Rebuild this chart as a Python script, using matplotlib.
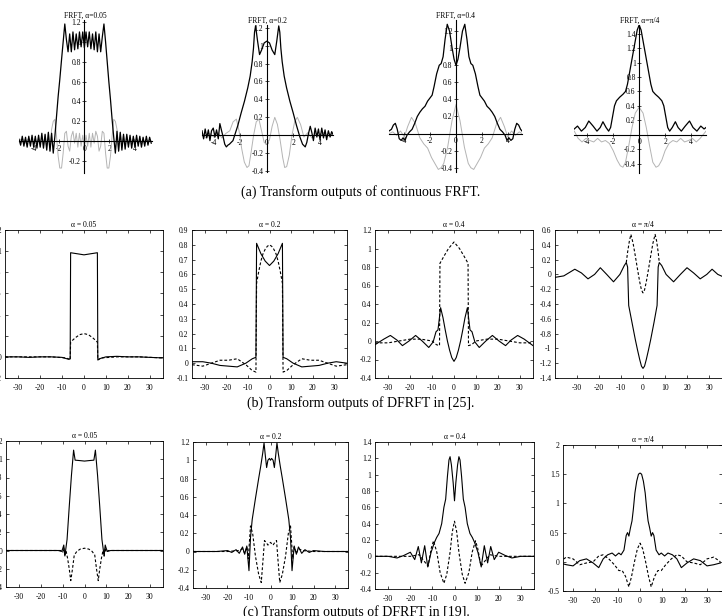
import matplotlib
matplotlib.use("Agg")
import matplotlib.pyplot as plt
from matplotlib.ticker import FuncFormatter

plt.rcParams["font.family"] = ["Liberation Serif", "DejaVu Serif"]
plt.rcParams["axes.unicode_minus"] = False

W, H = 722, 616

# ---------------- (a) continuous FRFT ----------------
a1_x = [-5.2, -5.07, -4.94, -4.81, -4.68, -4.55, -4.42, -4.29, -4.16, -4.03, -3.9, -3.77, -3.64, -3.51,
        -3.38, -3.25, -3.12, -2.99, -2.86, -2.73, -2.6, -2.47, -2.34, -2.21, -2.08, -1.95, -1.81, -1.68,
        -1.55, -1.42, -1.29, -1.16, -1.03, -0.9, -0.77, -0.64, -0.51, -0.38, -0.25, -0.12, 0.01, 0.14,
        0.27, 0.4, 0.53, 0.66, 0.79, 0.92, 1.05, 1.18, 1.31, 1.44, 1.57, 1.7, 1.83, 1.96, 2.09, 2.22,
        2.35, 2.48, 2.61, 2.74, 2.87, 3.0, 3.13, 3.26, 3.39, 3.52, 3.65, 3.78, 3.91, 4.04, 4.17, 4.3,
        4.43, 4.56, 4.69, 4.82, 4.95, 5.08, 5.21, 5.34]
a1_mag = [0.02, -0.04, 0.05, -0.05, 0.04, -0.06, 0.05, -0.05, 0.06, -0.06, 0.05, -0.07, 0.06, -0.06,
          0.08, -0.07, 0.07, -0.09, 0.09, -0.1, 0.08, -0.12, 0.05, 0.25, 0.45, 0.62, 0.82, 1.0, 1.18,
          1.02, 0.9, 1.08, 0.9, 1.1, 0.92, 1.08, 0.93, 1.1, 0.95, 1.1, 0.94, 1.1, 0.95, 1.1, 0.93, 1.08,
          0.92, 1.1, 0.9, 1.08, 0.9, 1.05, 1.18, 1.0, 0.8, 0.6, 0.42, 0.22, 0.04, -0.12, 0.1, -0.1, 0.09,
          -0.09, 0.07, -0.08, 0.07, -0.06, 0.06, -0.07, 0.05, -0.06, 0.06, -0.05, 0.05, -0.06, 0.04,
          -0.05, 0.05, -0.04, 0.04, -0.02]
a1_re = [0.0, 0.02, -0.01, 0.02, -0.02, 0.01, 0.03, -0.03, 0.02, -0.02, 0.03, -0.03, 0.04, -0.04, 0.05,
         -0.05, 0.06, -0.06, 0.08, -0.1, 0.12, 0.2, 0.22, 0.05, -0.15, -0.27, -0.27, -0.12, 0.08, 0.1,
         -0.05, -0.1, 0.05, 0.1, -0.02, 0.08, -0.06, 0.08, -0.05, 0.06, -0.06, 0.06, -0.05, 0.08, -0.06,
         0.08, -0.02, 0.1, 0.05, -0.1, -0.05, 0.1, 0.08, -0.12, -0.27, -0.27, -0.15, 0.05, 0.22, 0.2,
         0.12, -0.1, 0.08, -0.06, 0.06, -0.05, 0.05, -0.04, 0.04, -0.03, 0.03, -0.02, 0.02, -0.03, 0.03,
         -0.02, 0.02, -0.01, 0.02, -0.01, 0.01, 0.0]

a2_x = [-4.9, -4.78, -4.66, -4.54, -4.42, -4.3, -4.18, -4.05, -3.92, -3.8, -3.67, -3.55, -3.42, -3.3,
        -3.18, -3.06, -2.94, -2.83, -2.56, -2.19, -1.94, -1.69, -1.44, -1.26, -1.11, -1.01, -0.93, -0.85,
        -0.7, -0.55, -0.4, -0.2, 0.0, 0.2, 0.4, 0.6, 0.75, 0.9, 0.98, 1.06, 1.16, 1.31, 1.49, 1.74, 1.99,
        2.24, 2.5, 2.7, 2.9, 3.02, 3.15, 3.28, 3.4, 3.52, 3.65, 3.78, 3.9, 4.02, 4.15, 4.28, 4.4, 4.52,
        4.65, 4.78, 4.9, 5.0]
a2_mag = [0.05, -0.04, 0.07, -0.03, 0.06, -0.06, 0.05, 0.08, -0.02, 0.06, -0.04, 0.13, 0.05, -0.02,
          -0.1, -0.13, -0.11, -0.1, -0.06, 0.11, 0.25, 0.38, 0.53, 0.66, 0.82, 0.97, 1.15, 1.22, 1.05,
          0.9, 0.95, 1.03, 1.05, 1.03, 0.95, 0.9, 1.05, 1.22, 1.15, 0.97, 0.82, 0.66, 0.53, 0.38, 0.25,
          0.11, -0.02, -0.1, -0.13, -0.08, 0.02, 0.1, 0.03, -0.06, 0.08, -0.02, 0.07, -0.05, 0.08, -0.03,
          0.06, -0.05, 0.05, -0.02, 0.04, 0.01]
a2_re_x = [-4.9, -4.6, -4.3, -4.0, -3.7, -3.4, -3.1, -2.8, -2.55, -2.3, -2.1, -1.9, -1.7, -1.5, -1.35,
           -1.2, -1.0, -0.8, -0.6, -0.4, -0.2, 0.0, 0.2, 0.4, 0.6, 0.8, 1.0, 1.2, 1.35, 1.5, 1.7, 1.9,
           2.1, 2.3, 2.55, 2.8, 3.1, 3.4, 3.7, 4.0, 4.3, 4.6, 4.9]
a2_re = [0.01, -0.03, 0.02, -0.02, 0.03, -0.03, 0.02, 0.05, 0.15, 0.18, 0.05, -0.15, -0.3, -0.36, -0.34,
         -0.2, 0.0, 0.15, 0.18, 0.05, -0.08, -0.1, -0.05, 0.1, 0.2, 0.12, -0.05, -0.25, -0.36, -0.35,
         -0.22, 0.0, 0.15, 0.2, 0.12, -0.02, 0.03, -0.03, 0.02, -0.02, 0.03, -0.01, 0.01]

a3_x = [-5.19, -5.0, -4.85, -4.7, -4.55, -4.4, -4.25, -4.1, -3.95, -3.8, -3.6, -3.4, -3.2, -3.0, -2.8,
        -2.6, -2.4, -2.2, -2.0, -1.85, -1.7, -1.5, -1.3, -1.15, -1.0, -0.85, -0.68, -0.5, -0.3, -0.15,
        0.0, 0.15, 0.3, 0.5, 0.68, 0.85, 1.0, 1.15, 1.3, 1.5, 1.7, 1.85, 2.0, 2.2, 2.4, 2.6, 2.8, 3.0,
        3.2, 3.4, 3.6, 3.8, 3.95, 4.1, 4.25, 4.4, 4.55, 4.7, 4.85, 5.0, 5.11]
a3_mag = [0.03, 0.05, 0.1, 0.12, 0.05, -0.06, -0.08, -0.05, -0.08, -0.02, 0.02, 0.05, 0.12, 0.2, 0.25,
          0.29, 0.32, 0.38, 0.42, 0.45, 0.55, 0.7, 0.8, 0.82, 0.9, 1.1, 1.28, 1.2, 1.0, 0.87, 0.8, 0.87,
          1.0, 1.2, 1.28, 1.1, 0.9, 0.82, 0.8, 0.7, 0.55, 0.45, 0.42, 0.38, 0.32, 0.29, 0.25, 0.2, 0.12,
          0.05, 0.02, -0.02, -0.08, -0.05, -0.08, -0.06, 0.05, 0.12, 0.1, 0.05, 0.03]
a3_re_x = [-5.19, -4.9, -4.6, -4.3, -4.0, -3.75, -3.45, -3.15, -2.8, -2.5, -2.2, -1.9, -1.6, -1.37, -1.15,
           -0.95, -0.65, -0.31, 0.0, 0.31, 0.65, 0.95, 1.15, 1.37, 1.6, 1.9, 2.2, 2.5, 2.8, 3.15, 3.45,
           3.75, 4.0, 4.3, 4.6, 4.9, 5.11]
a3_re = [0.0, 0.02, -0.02, 0.03, -0.04, 0.08, 0.19, 0.12, -0.05, -0.12, -0.17, -0.28, -0.36, -0.42, -0.4,
         -0.35, -0.16, 0.15, 0.34, 0.15, -0.16, -0.35, -0.4, -0.42, -0.36, -0.28, -0.17, -0.12, -0.05,
         0.12, 0.19, 0.08, -0.04, 0.03, -0.02, 0.02, 0.0]

a4_x = [-5.0, -4.75, -4.45, -4.15, -3.88, -3.55, -3.25, -3.0, -2.79, -2.55, -2.35, -2.2, -2.05, -1.9,
        -1.75, -1.5, -1.25, -1.05, -0.9, -0.75, -0.6, -0.45, -0.3, -0.15, 0.0, 0.15, 0.3, 0.45, 0.6,
        0.75, 0.9, 1.05, 1.25, 1.5, 1.75, 1.9, 2.05, 2.2, 2.35, 2.55, 2.79, 3.0, 3.25, 3.55, 3.88, 4.15,
        4.45, 4.75, 5.0, 5.15]
a4_mag = [0.08, 0.12, 0.05, 0.1, 0.19, 0.12, 0.05, 0.1, 0.18, 0.1, 0.05, 0.1, 0.25, 0.4, 0.47, 0.52,
          0.56, 0.6, 0.7, 0.85, 1.0, 1.15, 1.3, 1.45, 1.52, 1.45, 1.3, 1.15, 1.0, 0.85, 0.7, 0.6, 0.56,
          0.52, 0.47, 0.4, 0.25, 0.1, 0.05, 0.1, 0.18, 0.1, 0.05, 0.12, 0.19, 0.1, 0.05, 0.12, 0.08, 0.1]
a4_re_x = [-5.0, -4.7, -4.4, -4.1, -3.8, -3.5, -3.2, -2.9, -2.6, -2.3, -2.0, -1.7, -1.45, -1.25, -1.05,
           -0.8, -0.55, -0.3, 0.0, 0.3, 0.55, 0.8, 1.05, 1.3, 1.5, 1.75, 2.0, 2.3, 2.6, 2.9, 3.2, 3.5,
           3.8, 4.1, 4.4, 4.7, 5.15]
a4_re = [0.05, -0.05, -0.1, -0.05, -0.08, -0.1, -0.05, -0.1, -0.08, -0.12, -0.22, -0.35, -0.43, -0.45,
         -0.38, -0.15, 0.1, 0.3, 0.38, 0.3, 0.1, -0.15, -0.38, -0.45, -0.43, -0.35, -0.22, -0.12, -0.08,
         -0.1, -0.05, -0.1, -0.08, -0.05, -0.1, -0.05, 0.05]

# ---------------- (b) DFRFT in [25] ----------------
b1_x = [-36, -30, -25, -20, -15, -10, -7.5, -6.3, -6.1, -3.0, 0.0, 3.0, 6.1, 6.3, 7.5, 10, 15, 20, 25,
        30, 36]
b1_solid = [0.0, 0.0, -0.005, 0.0, 0.0, -0.005, -0.02, -0.02, 0.985, 0.975, 0.965, 0.975, 0.985, -0.025,
            -0.015, 0.0, 0.005, 0.0, 0.0, -0.005, -0.01]
b1_dx = [-36, -25, -15, -8, -6.3, -6.1, -4, -2, 0, 2, 4, 6.1, 6.3, 8, 15, 25, 36]
b1_dash = [0.0, 0.0, 0.0, -0.01, -0.03, 0.14, 0.18, 0.21, 0.22, 0.21, 0.18, 0.14, -0.03, -0.01, 0.0, 0.0,
           -0.01]

b2_x = [-36, -31, -27, -23, -19, -15, -11, -8, -6.3, -6.0, -4, -2, 0, 2, 4, 6.0, 6.3, 8, 11, 15, 19, 23,
        27, 31, 36]
b2_solid = [0.01, 0.01, 0.0, -0.015, -0.02, -0.025, 0.0, 0.03, 0.04, 0.81, 0.74, 0.69, 0.66, 0.69, 0.74,
            0.81, 0.04, 0.03, 0.0, -0.025, -0.02, -0.015, 0.0, 0.01, 0.0]
b2_dx = [-36, -31, -27, -23, -19, -15, -11, -8, -6.3, -6.0, -5, -4, -3, -2, -1, 0, 1, 2, 3, 4, 5, 6.0,
         6.3, 8, 11, 15, 19, 23, 27, 31, 36]
b2_dash = [-0.01, -0.02, 0.0, 0.02, 0.02, 0.03, -0.01, -0.05, -0.06, 0.54, 0.62, 0.69, 0.74, 0.77, 0.79,
           0.8, 0.79, 0.77, 0.74, 0.69, 0.62, 0.54, -0.06, -0.05, -0.01, 0.03, 0.02, 0.02, 0.0, -0.02,
           -0.01]

b3_x = [-36, -32, -29, -26, -23.5, -20.5, -17.5, -14.5, -11.5, -9.5, -8.2, -7.3, -6.1, -5, -4, -3, -2, -1,
        0, 1, 2, 3, 4, 5, 6.1, 7.3, 8.2, 9.5, 11.5, 14.5, 17.5, 20.5, 23.5, 26, 29, 32, 36]
b3_solid = [-0.04, 0.02, 0.06, 0.01, -0.05, 0.0, 0.06, 0.0, -0.07, -0.01, 0.1, 0.12, 0.36, 0.25, 0.12,
            0.0, -0.1, -0.18, -0.22, -0.18, -0.1, 0.0, 0.12, 0.25, 0.36, 0.12, 0.1, -0.01, -0.07, 0.0,
            0.06, 0.0, -0.05, 0.01, 0.06, 0.02, -0.05]
b3_dx = [-36, -30, -25, -20, -15, -10, -8, -6.6, -6.4, -4.5, -2.5, 0, 2.5, 4.5, 6.4, 6.6, 8, 10, 15, 20,
         25, 30, 36]
b3_dash = [-0.02, -0.02, 0.0, 0.02, 0.02, 0.0, -0.04, -0.05, 0.84, 0.92, 1.0, 1.07, 1.0, 0.92, 0.84, -0.05,
           -0.04, 0.0, 0.02, 0.02, 0.0, -0.02, -0.02]

b4_x = [-40, -36, -31, -28, -25, -22, -19.4, -16.5, -13.4, -10.5, -8.5, -7.6, -7.0, -6.5, -5, -3.5, -2.5,
        -1.5, -0.7, 0, 0.7, 1.5, 2.5, 3.5, 5, 6.4, 6.9, 7.4, 8.5, 10.5, 13.9, 17, 20, 23, 26, 29, 31.4,
        34, 37, 40]
b4_solid = [-0.04, -0.02, 0.07, 0.02, -0.06, 0.0, 0.09, 0.0, -0.1, 0.0, 0.12, 0.16, 0.1, -0.42, -0.65,
            -0.88, -1.02, -1.15, -1.24, -1.27, -1.24, -1.15, -1.02, -0.88, -0.65, -0.42, 0.1, 0.16, 0.12,
            0.0, -0.1, 0.0, 0.09, 0.02, -0.06, 0.0, 0.07, 0.0, -0.04, -0.02]
b4_dx = [-7.6, -7.0, -6.2, -5.5, -4.5, -3.5, -2.5, -1.5, -0.7, 0, 0.7, 1.5, 2.5, 3.5, 4.5, 5.5, 6.2, 6.9,
         7.4]
b4_dash = [0.16, 0.3, 0.45, 0.54, 0.42, 0.25, 0.07, -0.1, -0.21, -0.25, -0.21, -0.1, 0.07, 0.25, 0.42,
           0.54, 0.45, 0.3, 0.16]

# ---------------- (c) DFRFT in [19] ----------------
c1_x = [-36, -30, -20, -12, -10.5, -10, -9.5, -9.0, -8.5, -8.0, -7, -6, -5, -4.3, -2, 0, 2, 4.3, 5, 6, 7,
        8, 8.5, 9, 9.5, 10, 10.5, 12, 20, 30, 36]
c1_solid = [0.0, 0.0, 0.0, 0.0, -0.01, 0.02, 0.06, -0.06, 0.03, 0.12, 0.48, 0.82, 1.1, 0.99, 0.985, 0.98,
            0.985, 0.99, 1.1, 0.82, 0.48, 0.12, 0.03, -0.06, 0.06, 0.02, -0.01, 0.0, 0.0, 0.0, 0.0]
c1_dx = [-36, -20, -11, -10, -9.5, -9, -8.5, -7.8, -7, -6.3, -5.5, -4.7, -3.5, -2, 0, 2, 3.5, 4.7, 5.5,
         6.3, 7, 7.8, 8.5, 9, 9.5, 10, 11, 20, 36]
c1_dash = [0.0, 0.0, 0.0, -0.02, 0.03, -0.06, 0.0, -0.08, -0.2, -0.33, -0.2, -0.05, -0.01, 0.015, 0.025,
           0.015, -0.01, -0.05, -0.2, -0.33, -0.2, -0.08, 0.0, -0.06, 0.03, -0.02, 0.0, 0.0, 0.0]

c2_x = [-36, -25, -20, -18, -16, -14.5, -13, -12, -11, -10, -9.3, -8.5, -7, -5.5, -4.5, -3.6, -3.0, -2.4,
        -1.8, -1.2, -0.5, 0, 0.5, 1.2, 1.8, 2.4, 3.0, 3.6, 4.5, 5.5, 7, 8.5, 9.3, 10, 11, 12, 13, 14.5,
        16, 18, 20, 25, 36]
c2_solid = [0.0, 0.0, 0.01, -0.01, 0.02, -0.02, 0.05, -0.03, 0.06, -0.21, 0.15, 0.35, 0.58, 0.8, 0.94,
            1.08, 1.19, 1.05, 0.92, 1.0, 1.02, 1.0, 1.02, 1.0, 0.92, 1.05, 1.19, 1.08, 0.94, 0.8, 0.58,
            0.35, 0.15, -0.21, 0.06, -0.03, 0.05, -0.02, 0.02, -0.01, 0.01, 0.0, 0.0]
c2_dx = [-36, -20, -15, -13, -12, -11, -10.3, -9.3, -8.3, -7, -5.5, -4.3, -3.5, -2.8, -2.0, -1.2, 0, 1.2,
         2.0, 2.8, 3.5, 4.3, 5.5, 7, 8.3, 9.3, 10.3, 11, 12, 13, 15, 20, 36]
c2_dash = [0.0, 0.0, 0.01, 0.03, -0.02, 0.05, -0.08, 0.28, 0.2, -0.05, -0.25, -0.34, -0.1, 0.12, 0.1,
           0.07, 0.1, 0.07, 0.1, 0.12, -0.1, -0.34, -0.25, -0.05, 0.2, 0.28, -0.08, 0.05, -0.02, 0.03,
           0.01, 0.0, 0.0]

c3_x = [-36, -30, -26, -23, -20, -18, -16.4, -15, -13.5, -12.1, -10.6, -9.1, -8.1, -7, -5.8, -4.8, -4.0,
        -3.2, -2.5, -2.0, -1.4, -0.6, 0, 0.6, 1.4, 2.0, 2.5, 3.2, 4.0, 4.8, 5.8, 7, 8.1, 9.1, 10.6, 12.1,
        13.5, 15, 16.4, 18, 20, 23, 26, 30, 36]
c3_solid = [0.0, 0.0, -0.02, 0.01, 0.05, -0.04, 0.12, -0.08, 0.13, -0.13, 0.05, 0.17, 0.23, 0.28, 0.4,
            0.6, 0.7, 0.98, 1.18, 1.22, 1.12, 0.9, 0.68, 0.9, 1.12, 1.22, 1.18, 0.98, 0.7, 0.6, 0.4, 0.28,
            0.23, 0.17, 0.05, -0.13, 0.13, -0.08, 0.12, -0.04, 0.05, 0.01, -0.02, 0.0, 0.0]
c3_dx = [-36, -20, -16, -14, -12, -10.5, -9.5, -8, -6.5, -4.8, -3.5, -2.0, -1.0, 0, 1.0, 2.0, 3.5, 4.8,
         6.5, 8, 9.5, 10.5, 12, 14, 16, 20, 36]
c3_dash = [0.0, 0.0, 0.02, -0.05, -0.12, 0.1, 0.19, 0.05, -0.2, -0.33, -0.22, 0.05, 0.3, 0.43, 0.3, 0.05,
           -0.22, -0.33, -0.2, 0.05, 0.19, 0.1, -0.12, -0.05, 0.02, 0.0, 0.0]

c4_x = [-36, -33, -30, -27, -24, -21, -18.5, -16.5, -14.5, -12.5, -11, -9.5, -8.5, -7.2, -6.2, -5.6, -5.0,
        -4.3, -3.6, -3.0, -2.3, -1.5, -0.7, 0, 0.7, 1.5, 2.3, 3.0, 3.6, 4.3, 5.0, 5.6, 6.2, 7.2, 8.5, 9.5,
        11, 12.5, 14.5, 16.5, 18.5, 21, 24, 27, 30, 33, 36]
c4_solid = [-0.02, -0.05, -0.07, 0.02, 0.05, -0.02, -0.1, 0.05, 0.12, 0.15, 0.1, 0.15, 0.12, 0.2, 0.45,
            0.5, 0.44, 0.58, 0.7, 0.9, 1.18, 1.38, 1.5, 1.52, 1.5, 1.38, 1.18, 0.9, 0.7, 0.58, 0.44, 0.5,
            0.45, 0.2, 0.12, 0.15, 0.1, 0.15, 0.12, 0.05, -0.1, -0.02, 0.05, 0.02, -0.07, -0.05, -0.02]
c4_dx = [-36, -33, -30, -27, -24, -21, -18.5, -16.5, -14, -11.5, -9.5, -8, -6.5, -5.0, -3.8, -2.5, -1.2,
         0, 1.2, 2.5, 3.8, 5.0, 6.5, 8, 9.5, 11.5, 14, 16.5, 18.5, 21, 24, 27, 30, 33, 36]
c4_dash = [0.0, 0.08, 0.05, -0.05, -0.02, 0.0, 0.1, 0.12, 0.05, -0.05, -0.15, -0.15, -0.25, -0.43, -0.25,
           0.0, 0.22, 0.32, 0.22, 0.0, -0.25, -0.43, -0.25, -0.15, -0.15, -0.05, 0.05, 0.12, 0.1, 0.0,
           -0.02, -0.05, 0.05, 0.08, 0.0]

xticks_box = [-30, -20, -10, 0, 10, 20, 30]

fig = plt.figure(figsize=(W / 100, H / 100), dpi=100)


def place(x0, y0, x1, y1):
    return fig.add_axes([x0 / W, 1 - y1 / H, (x1 - x0) / W, (y1 - y0) / H])


label = FuncFormatter(lambda v, pos: "%g" % round(v, 3))


def crossed(rect, xlim, ylim, yticks, title, x_re, y_re, x_mag, y_mag):
    ax = place(*rect)
    ax.plot(x_re, y_re, color="#b4b4b4", lw=0.7)
    ax.plot(x_mag, y_mag, color="black", lw=0.9)
    ax.set_xlim(xlim)
    ax.set_ylim(ylim)
    for side in ("top", "right"):
        ax.spines[side].set_visible(False)
    for side in ("left", "bottom"):
        ax.spines[side].set_position(("data", 0))
        ax.spines[side].set_linewidth(0.8)
    ax.set_xticks([-4, -2, 0, 2, 4])
    ax.set_yticks(yticks)
    ax.xaxis.set_major_formatter(label)
    ax.yaxis.set_major_formatter(label)
    ax.tick_params(direction="inout", length=3, width=0.5, labelsize=5.5, pad=1)
    ax.patch.set_visible(False)
    ax.set_title(title, fontsize=5.5, pad=1)
    return ax


def boxed(rect, xlim, ylim, yticks, title, xs, ys, xd, yd):
    ax = place(*rect)
    ax.plot(xs, ys, color="black", lw=0.8)
    ax.plot(xd, yd, color="black", lw=0.8, dashes=(2.5, 1.8))
    ax.set_xlim(xlim)
    ax.set_ylim(ylim)
    ax.set_xticks(xticks_box)
    ax.set_yticks(yticks)
    ax.xaxis.set_major_formatter(label)
    ax.yaxis.set_major_formatter(label)
    ax.tick_params(direction="in", top=True, right=True, length=2.5, width=0.5, labelsize=5.5)
    ax.tick_params(axis="x", pad=4)
    ax.tick_params(axis="y", pad=2.5)
    for sp in ax.spines.values():
        sp.set_linewidth(0.6)
    ax.set_title(title, fontsize=5.5, pad=2)
    return ax


# row (a)
crossed((19, 20, 152, 173), (-5.2, 5.4), (-0.32, 1.22), [-0.2, 0.2, 0.4, 0.6, 0.8, 1, 1.2],
        "FRFT, α=0.05", a1_x, a1_re, a1_x, a1_mag)
crossed((202, 25, 333, 172), (-4.9, 5.0), (-0.41, 1.23), [-0.4, -0.2, 0.2, 0.4, 0.6, 0.8, 1, 1.2],
        "FRFT, α=0.2", a2_re_x, a2_re, a2_x, a2_mag)
crossed((389, 20, 522, 172), (-5.19, 5.11), (-0.45, 1.33), [-0.4, -0.2, 0.2, 0.4, 0.6, 0.8, 1, 1.2],
        "FRFT, α=0.4", a3_re_x, a3_re, a3_x, a3_mag)
crossed((574, 25, 706, 173), (-5.02, 5.15), (-0.53, 1.52),
        [-0.4, -0.2, 0.2, 0.4, 0.6, 0.8, 1, 1.2, 1.4],
        "FRFT, α=π/4", a4_re_x, a4_re, a4_x, a4_mag)

# row (b)
boxed((5, 230, 163, 378), (-36, 36), (-0.2, 1.2), [-0.2, 0, 0.2, 0.4, 0.6, 0.8, 1, 1.2],
      "α = 0.05", b1_x, b1_solid, b1_dx, b1_dash)
boxed((192, 230, 347, 378), (-36, 36), (-0.1, 0.9), [-0.1, 0, 0.1, 0.2, 0.3, 0.4, 0.5, 0.6, 0.7, 0.8, 0.9],
      "α = 0.2", b2_x, b2_solid, b2_dx, b2_dash)
boxed((375, 230, 533, 378), (-36, 36), (-0.4, 1.2), [-0.4, -0.2, 0, 0.2, 0.4, 0.6, 0.8, 1, 1.2],
      "α = 0.4", b3_x, b3_solid, b3_dx, b3_dash)
boxed((555, 230, 731, 378), (-40, 40), (-1.4, 0.6),
      [-1.4, -1.2, -1, -0.8, -0.6, -0.4, -0.2, 0, 0.2, 0.4, 0.6],
      "α = π/4", b4_x, b4_solid, b4_dx, b4_dash)

# row (c)
boxed((6, 441, 163, 587), (-36, 36), (-0.4, 1.2), [-0.4, -0.2, 0, 0.2, 0.4, 0.6, 0.8, 1, 1.2],
      "α = 0.05", c1_x, c1_solid, c1_dx, c1_dash)
boxed((193, 442, 348, 588), (-36, 36), (-0.4, 1.2), [-0.4, -0.2, 0, 0.2, 0.4, 0.6, 0.8, 1, 1.2],
      "α = 0.2", c2_x, c2_solid, c2_dx, c2_dash)
boxed((375, 442, 534, 589), (-36, 36), (-0.4, 1.4), [-0.4, -0.2, 0, 0.2, 0.4, 0.6, 0.8, 1, 1.2, 1.4],
      "α = 0.4", c3_x, c3_solid, c3_dx, c3_dash)
boxed((563, 445, 722, 591), (-34.5, 36.7), (-0.5, 2), [-0.5, 0, 0.5, 1, 1.5, 2],
      "α = π/4", c4_x, c4_solid, c4_dx, c4_dash)

cap = dict(ha="center", va="center", fontsize=10)
fig.text(361 / W, 1 - 192 / H, "(a) Transform outputs of continuous FRFT.", **cap)
fig.text(361 / W, 1 - 403 / H, "(b) Transform outputs of DFRFT in [25].", **cap)
fig.text(356 / W, 1 - 612 / H, "(c) Transform outputs of DFRFT in [19].", **cap)

fig.savefig("out.png", dpi=100)
